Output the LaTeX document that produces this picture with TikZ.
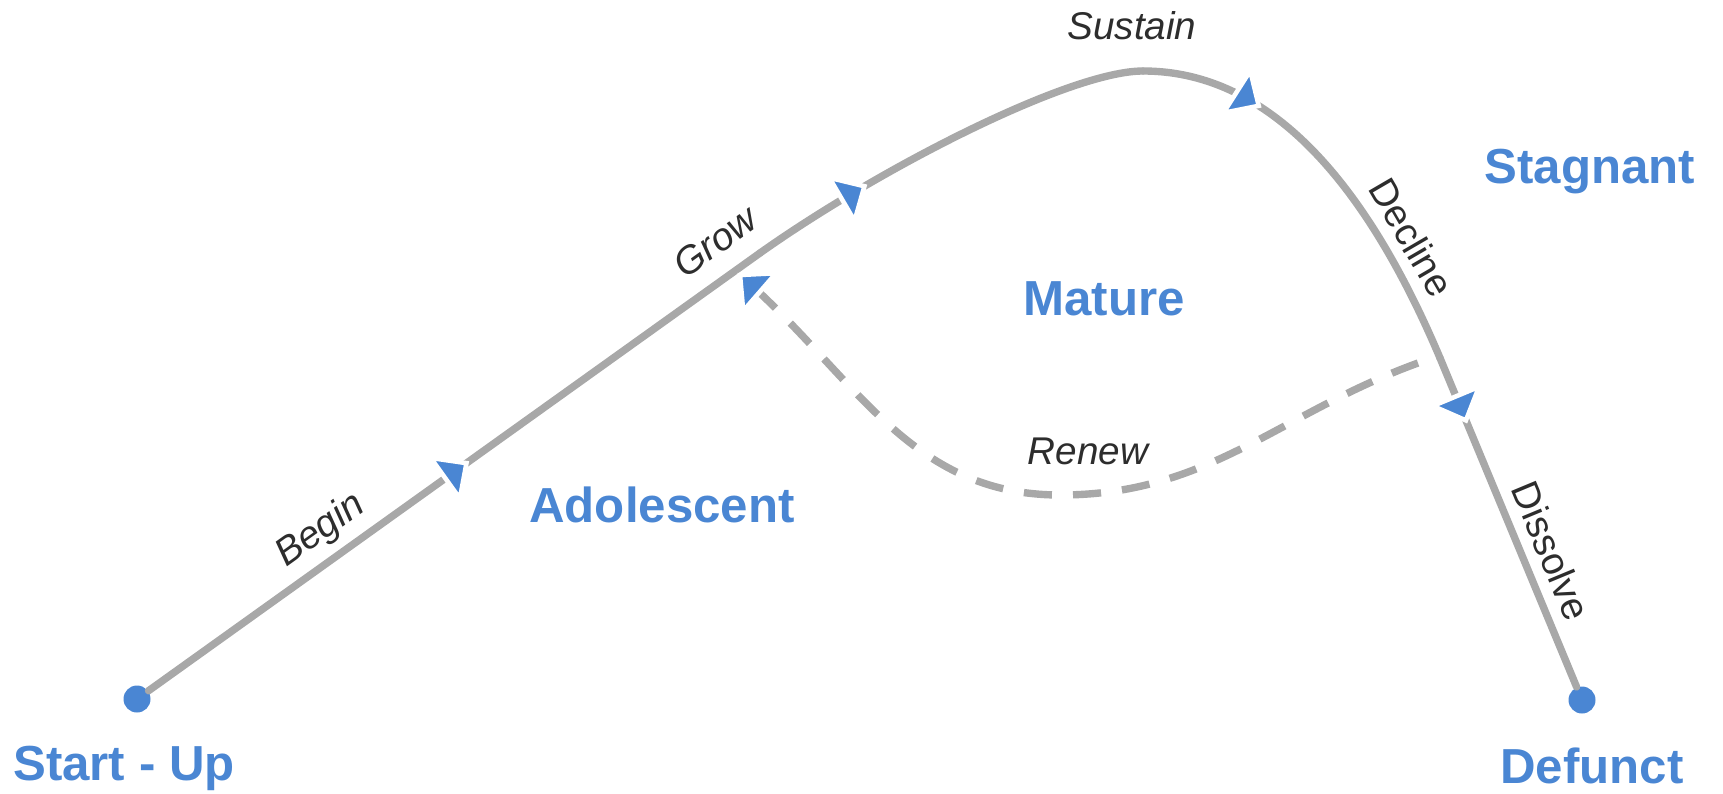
\documentclass[tikz,border=0pt]{standalone}
\usepackage{fontspec}
\setmainfont{Liberation Sans}
\usetikzlibrary{positioning,decorations.markings}
\definecolor{phaseblue}{RGB}{74,134,211}
\definecolor{trackgray}{RGB}{168,168,168}
\definecolor{labelgray}{RGB}{45,45,45}

\begin{document}
\begin{tikzpicture}[
        dot/.style={circle,fill=phaseblue,inner sep=0pt,minimum size=0.27cm},
        phase/.style={font=\fontsize{14}{17}\selectfont\bfseries,text=phaseblue,inner sep=0pt},
        verb/.style={font=\fontsize{11}{13}\selectfont,text=labelgray,inner sep=0pt},
        verbit/.style={verb,font=\fontsize{11}{13}\selectfont\itshape},
        track/.style={draw=trackgray,line width=2.1pt,line cap=round},
        renewal/.style={draw=trackgray,line width=2.1pt,dash pattern=on 8pt off 6pt},
        pointer/.style={postaction={decorate},decoration={markings,mark=at position #1 with
            {\fill[solid,phaseblue,draw=white,line width=1.3pt] (0,0) -- (-0.26,0.25) -- (-0.26,-0.25) -- cycle;}}}
    ]
    \useasboundingbox (0,0) rectangle (17.23,7.93);

    \node[dot] (startup) at (1.37,0.94) {};
    \node[dot] (defunct) at (15.82,0.93) {};
    \coordinate (bend) at (7.6,5.4);
    \coordinate (top) at (11.43,7.22);
    \coordinate (turn) at (14.4,4.35);
    \coordinate (renewfrom) at (14.18,4.30);
    \coordinate (low) at (10.6,2.98);
    \coordinate (renewto) at (7.40,5.18);

    \node[phase,below=0.32cm of startup,xshift=-0.13cm] (startlabel) {Start - Up};
    \node[phase,below=0.33cm of defunct,xshift=0.1cm] (defunctlabel) {Defunct};
    \node[phase] (adolescent) at (6.62,2.88) {Adolescent};
    \node[phase] (mature) at (11.04,4.94) {Mature};
    \node[phase] (stagnant) at (15.90,6.21) {Stagnant};

    \draw[track,pointer=0.52] (startup) -- node[verbit,sloped,above=0.08cm,pos=0.31] {Begin}
        node[verbit,sloped,above=0.18cm,pos=0.96] {Grow} (bend);
    \draw[track,pointer=0.29] (bend) .. controls (8.8,6.25) and (10.7,7.22) .. (top);
    \draw[track,pointer=0.28] (top) .. controls (12.8,7.22) and (13.74,5.91) ..
        node[verb,sloped,above=0.1cm,pos=0.76] {Decline} (turn);
    \draw[track,pointer=0.19] (turn) -- node[verb,sloped,above=0.11cm,pos=0.62] {Dissolve} (defunct);
    \node[verbit,above=0.30cm of top,xshift=-0.11cm] (sustain) {Sustain};

    \draw[renewal,pointer=1] (renewfrom) to[out=200,in=0] (low) to[out=180,in=-41] (renewto);
    \node[verbit,above=0.29cm of low,xshift=0.28cm] (renew) {Renew};
\end{tikzpicture}
\end{document}
